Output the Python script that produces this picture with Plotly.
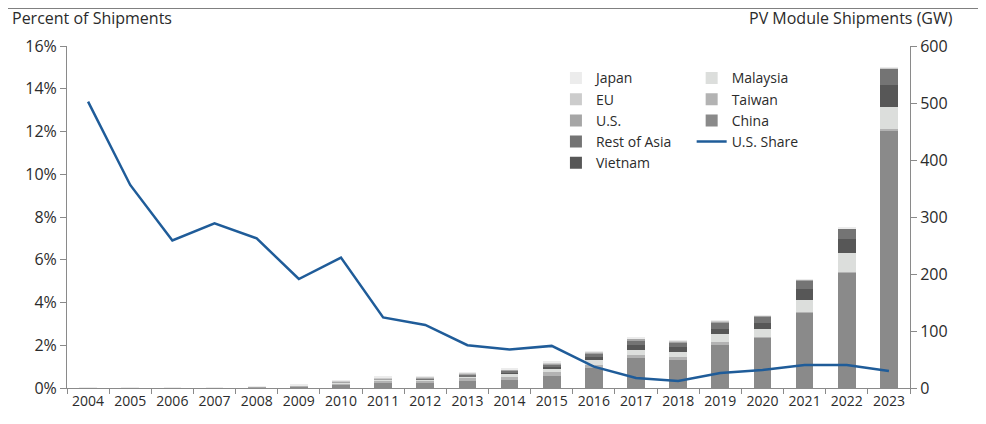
# Stacked PV module shipments by origin (GW, right axis) with the U.S. share line (%, left axis).

import plotly.graph_objects as go

years = [str(y) for y in range(2004, 2024)]

# GW shipped (stack order bottom -> top)
china = [0, 0.05, 0.1, 0.4, 1.0, 2.5, 6, 9, 9, 12, 14, 21, 35, 52, 49, 75, 88, 132, 202, 452]
taiwan = [0, 0, 0.05, 0.2, 0.4, 1.0, 2.5, 3.5, 4, 5, 6, 7, 6, 6, 6, 6, 2, 1, 1, 2]
malaysia = [0, 0, 0, 0, 0, 0.3, 1, 2, 2.5, 4, 5, 6, 8, 8, 9, 14, 13, 22, 34, 39]
vietnam = [0, 0, 0, 0, 0, 0, 0, 0, 0, 0, 1, 2, 5, 9, 8, 9, 11, 19, 24, 39]
rest_of_asia = [0, 0, 0, 0, 0, 0, 0.5, 1, 1.5, 2.5, 4, 5, 7, 9, 8, 11, 12, 15, 18, 28]
us = [0.1, 0.15, 0.2, 0.3, 0.4, 0.6, 1.2, 1.5, 1.5, 1.5, 1.8, 2, 1.5, 2, 2, 2, 1, 1, 1, 1]
eu = [0.1, 0.15, 0.2, 0.3, 0.6, 0.8, 1.5, 1.5, 1.2, 1.5, 1.5, 1.5, 1, 1, 1, 1, 0.5, 0.5, 0.5, 0.5]
japan = [0.1, 0.15, 0.2, 0.3, 0.6, 0.8, 1.3, 1.5, 1.3, 1.5, 1.7, 1.5, 0.5, 1, 1, 1, 0.5, 0.5, 0.5, 0.5]

# U.S. share of shipments, percent
us_share = [13.4, 9.5, 6.9, 7.7, 7.0, 5.1, 6.1, 3.3, 2.95, 2.0, 1.8, 1.97,
            1.0, 0.47, 0.33, 0.7, 0.84, 1.08, 1.08, 0.8]

pct_ticks = list(range(0, 17, 2))
pct_labels = [f'{v}%' for v in pct_ticks]
gw_ticks = list(range(0, 601, 100))

# (name, values, colour, legend, rank)
stack = [
    ('China', china, '#8a8a8a', 'legend2', 3),
    ('Taiwan', taiwan, '#b3b3b3', 'legend2', 2),
    ('Malaysia', malaysia, '#dcdedc', 'legend2', 1),
    ('Vietnam', vietnam, '#575757', 'legend', 5),
    ('Rest of Asia', rest_of_asia, '#747474', 'legend', 4),
    ('U.S.', us, '#a6a6a6', 'legend', 3),
    ('EU', eu, '#cccccc', 'legend', 2),
    ('Japan', japan, '#ececec', 'legend', 1),
]

FONT = 'Open Sans'
TXT = '#2b2b2b'
AX = '#8a8a8a'

fig = go.Figure()

for name, vals, colour, leg, rank in stack:
    fig.add_trace(go.Bar(
        x=years, y=vals, name=name,
        marker=dict(color=colour, line=dict(width=0)),
        yaxis='y', legend=leg, legendrank=rank,
    ))

fig.add_trace(go.Scatter(
    x=years, y=us_share, name='U.S. Share', mode='lines',
    line=dict(color='#1f5c99', width=2.5),
    yaxis='y2', legend='legend2', legendrank=4,
))

legend_style = dict(
    font=dict(family=FONT, size=14, color=TXT),
    bgcolor='rgba(0,0,0,0)', traceorder='normal',
    tracegroupgap=0, itemwidth=30,
    xanchor='left', yanchor='top',
)

fig.update_layout(
    barmode='stack',
    bargap=0.58,
    width=986, height=424,
    # the page body adds 8px on the left and top
    margin=dict(l=59, r=84, t=38, b=44),
    paper_bgcolor='white', plot_bgcolor='white',
    font=dict(family=FONT, size=15, color=TXT),
    xaxis=dict(
        type='category', showgrid=False,
        showline=True, linecolor=AX, linewidth=1,
        ticks='outside', tickson='boundaries', ticklen=5, tickcolor=AX,
        tickfont=dict(size=14, color=TXT),
    ),
    yaxis=dict(
        side='right', range=[0, 600], tickvals=gw_ticks,
        showgrid=False, zeroline=False,
        showline=True, linecolor=AX, linewidth=1,
        ticks='outside', ticklen=6, tickcolor=AX,
        tickfont=dict(size=16, color=TXT),
    ),
    yaxis2=dict(
        overlaying='y', side='left', range=[0, 16],
        tickvals=pct_ticks, ticktext=pct_labels,
        showgrid=False, zeroline=False,
        showline=True, linecolor=AX, linewidth=1,
        ticks='outside', ticklen=6, tickcolor=AX,
        tickfont=dict(size=16, color=TXT),
    ),
    legend=dict(x=0.58, y=0.952, **legend_style),
    legend2=dict(x=0.741, y=0.952, **legend_style),
    shapes=[dict(
        type='line', xref='paper', yref='paper',
        x0=-0.08, x1=1.1, y0=1.111, y1=1.111,
        line=dict(color='#808080', width=2),
    )],
    annotations=[
        dict(text='Percent of Shipments', xref='paper', yref='paper',
             x=-0.068, y=1.082, xanchor='left', yanchor='middle',
             showarrow=False, font=dict(size=16, color=TXT)),
        dict(text='PV Module Shipments (GW)', xref='paper', yref='paper',
             x=1.053, y=1.082, xanchor='right', yanchor='middle',
             showarrow=False, font=dict(size=16, color=TXT)),
    ],
)

fig.write_html('out.html')
